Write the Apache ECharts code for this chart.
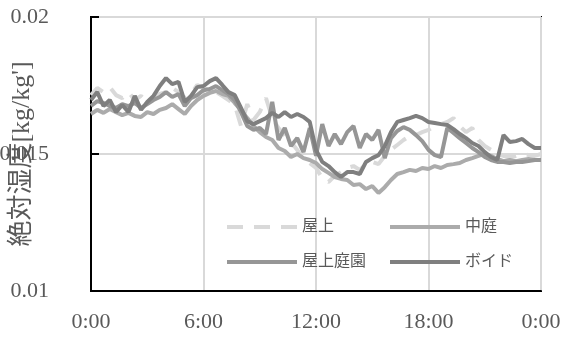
<!DOCTYPE html>
<html>
<head>
<meta charset="utf-8">
<script src="https://cdn.jsdelivr.net/npm/echarts@6/dist/echarts.min.js"></script>
<style>
  html, body { margin: 0; padding: 0; background: #fff; }
  #chart { width: 566px; height: 340px; }
</style>
</head>
<body>
<div id="chart"></div>
<script>
// 20分間隔 0:00 -> 24:00 (73点)
var times = [];
for (var i = 0; i <= 72; i++) {
    var m = i * 20;
    var mm = m % 60;
    times.push(Math.floor(m / 60) + ':' + (mm < 10 ? '0' + mm : mm));
}

// 屋上
var okujo = [
    0.01715, 0.01741, 0.01726, 0.01744, 0.01715, 0.01704, 0.01726, 0.01697, 0.01712, 0.01690,
    0.01704, 0.01719, 0.01726, 0.01741, 0.01726, 0.01704, 0.01719, 0.01752, 0.01741, 0.01733,
    0.01726, 0.01712, 0.01697, 0.01679, 0.01602, 0.01682, 0.01624, 0.01653, 0.01704, 0.01631,
    0.01595, 0.01569, 0.01544, 0.01515, 0.01478, 0.01467, 0.01449, 0.01412, 0.01398, 0.01420,
    0.01434, 0.01449, 0.01456, 0.01442, 0.01463, 0.01471, 0.01463, 0.01493, 0.01515, 0.01533,
    0.01551, 0.01566, 0.01569, 0.01580, 0.01588, 0.01602, 0.01609, 0.01617, 0.01631, 0.01602,
    0.01580, 0.01595, 0.01551, 0.01529, 0.01515, 0.01500, 0.01493, 0.01489, 0.01493, 0.01500,
    0.01496, 0.01493, 0.01500
];
// 中庭
var nakaniwa = [
    0.01646, 0.01661, 0.01650, 0.01664, 0.01653, 0.01642, 0.01650, 0.01639, 0.01635, 0.01653,
    0.01646, 0.01661, 0.01668, 0.01682, 0.01664, 0.01646, 0.01675, 0.01697, 0.01712, 0.01723,
    0.01730, 0.01719, 0.01712, 0.01686, 0.01661, 0.01631, 0.01602, 0.01580, 0.01562, 0.01551,
    0.01522, 0.01511, 0.01489, 0.01500, 0.01485, 0.01478, 0.01467, 0.01445, 0.01431, 0.01416,
    0.01409, 0.01405, 0.01387, 0.01390, 0.01372, 0.01383, 0.01358, 0.01379, 0.01405, 0.01427,
    0.01434, 0.01442, 0.01438, 0.01449, 0.01445, 0.01456, 0.01449, 0.01460, 0.01463, 0.01467,
    0.01478, 0.01485, 0.01493, 0.01500, 0.01493, 0.01482, 0.01474, 0.01478, 0.01474, 0.01478,
    0.01482, 0.01478, 0.01478
];
// 屋上庭園
var okujoTeien = [
    0.01675, 0.01693, 0.01686, 0.01675, 0.01668, 0.01682, 0.01675, 0.01686, 0.01668, 0.01682,
    0.01697, 0.01708, 0.01726, 0.01708, 0.01719, 0.01675, 0.01704, 0.01715, 0.01733, 0.01737,
    0.01748, 0.01733, 0.01719, 0.01697, 0.01653, 0.01602, 0.01588, 0.01595, 0.01573, 0.01690,
    0.01551, 0.01595, 0.01529, 0.01558, 0.01507, 0.01595, 0.01493, 0.01609, 0.01529, 0.01573,
    0.01536, 0.01580, 0.01602, 0.01522, 0.01573, 0.01551, 0.01588, 0.01485, 0.01558, 0.01584,
    0.01598, 0.01588, 0.01569, 0.01547, 0.01515, 0.01496, 0.01489, 0.01595, 0.01577, 0.01558,
    0.01540, 0.01522, 0.01507, 0.01489, 0.01478, 0.01471, 0.01471, 0.01467, 0.01471, 0.01471,
    0.01474, 0.01478, 0.01478
];
// ボイド
var void_ = [
    0.01697, 0.01726, 0.01675, 0.01697, 0.01653, 0.01679, 0.01653, 0.01712, 0.01661, 0.01690,
    0.01712, 0.01748, 0.01777, 0.01755, 0.01763, 0.01690, 0.01712, 0.01744, 0.01748, 0.01766,
    0.01777, 0.01752, 0.01726, 0.01715, 0.01668, 0.01620, 0.01609, 0.01620, 0.01631, 0.01650,
    0.01635, 0.01653, 0.01635, 0.01646, 0.01635, 0.01617, 0.01515, 0.01471, 0.01456, 0.01434,
    0.01416, 0.01434, 0.01434, 0.01427, 0.01471, 0.01485, 0.01496, 0.01529, 0.01580, 0.01617,
    0.01624, 0.01631, 0.01639, 0.01631, 0.01617, 0.01613, 0.01609, 0.01606, 0.01591, 0.01573,
    0.01558, 0.01540, 0.01529, 0.01507, 0.01489, 0.01478, 0.01569, 0.01544, 0.01547, 0.01555,
    0.01536, 0.01522, 0.01522
];

var fontSerif = "'Liberation Serif', 'DejaVu Serif', 'Noto Sans CJK JP', serif";
var textColor = '#595959';

var chart = echarts.init(document.getElementById('chart'));

function legendAt(name, left, top) {
    return {
        data: [name],
        left: left,
        top: top,
        padding: 0,
        itemWidth: 70,
        itemHeight: 14,
        itemStyle: { opacity: 0 },
        lineStyle: { width: 4 },
        textStyle: { fontFamily: fontSerif, fontSize: 16, color: textColor }
    };
}

var option = {
    animation: false,
    backgroundColor: '#fff',
    grid: {
        left: 91, right: 25, top: 17, bottom: 49,
        show: true, borderColor: '#000', borderWidth: 2,
        outerBoundsMode: 'none'
    },
    legend: [
        legendAt('屋上', 225, 219),
        legendAt('中庭', 388, 219),
        legendAt('屋上庭園', 225, 254),
        legendAt('ボイド', 388, 254)
    ],
    xAxis: {
        type: 'category',
        data: times,
        boundaryGap: false,
        axisLine: { lineStyle: { color: '#000', width: 2 } },
        axisTick: { show: false },
        axisLabel: {
            interval: 17,
            margin: 20,
            fontFamily: fontSerif, fontSize: 22, color: textColor,
            formatter: function (v) { return v === '24:00' ? '0:00' : v; }
        },
        splitLine: { show: true, interval: 17, lineStyle: { color: '#d9d9d9', width: 2 } }
    },
    yAxis: {
        type: 'value',
        min: 0.01, max: 0.02, interval: 0.005,
        name: "絶対湿度[kg/kg']",
        nameLocation: 'middle',
        nameGap: 56,
        nameRotate: 90,
        nameMoveOverlap: false,
        nameTextStyle: { fontFamily: fontSerif, fontSize: 26, color: textColor },
        axisLine: { show: true, lineStyle: { color: '#000', width: 2 } },
        axisTick: { show: true, inside: true, length: 8, lineStyle: { color: '#000', width: 2 } },
        axisLabel: { margin: 42, fontFamily: fontSerif, fontSize: 22, color: textColor },
        splitLine: { lineStyle: { color: '#d9d9d9', width: 2 } }
    },
    series: [
        { name: '屋上', type: 'line', data: okujo, symbol: 'none',
          lineStyle: { color: '#d9d9d9', width: 4, type: [16, 11] }, itemStyle: { color: '#d9d9d9' } },
        { name: '中庭', type: 'line', data: nakaniwa, symbol: 'none',
          lineStyle: { color: '#ababab', width: 4 }, itemStyle: { color: '#ababab' } },
        { name: '屋上庭園', type: 'line', data: okujoTeien, symbol: 'none',
          lineStyle: { color: '#969696', width: 4 }, itemStyle: { color: '#969696' } },
        { name: 'ボイド', type: 'line', data: void_, symbol: 'none',
          lineStyle: { color: '#7f7f7f', width: 4 }, itemStyle: { color: '#7f7f7f' } }
    ]
};

chart.setOption(option);
</script>
</body>
</html>
